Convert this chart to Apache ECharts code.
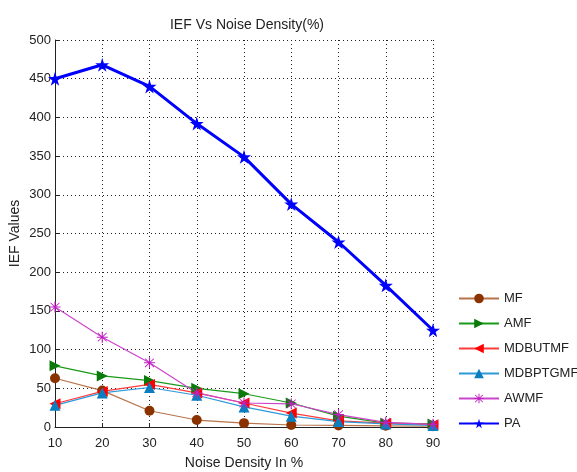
<!DOCTYPE html>
<html><head><meta charset="utf-8">
<script src="https://cdn.jsdelivr.net/npm/echarts@6/dist/echarts.min.js"></script>
<style>html,body{margin:0;padding:0;background:#fff}#c{width:577px;height:472px}</style>
</head><body><div id="c"></div>
<script>
const noise = [10, 20, 30, 40, 50, 60, 70, 80, 90];
const MF = [63, 47, 21, 9, 5, 2.6, 2, 1.5, 1];
const AMF = [79, 66, 60, 50, 43, 31, 14, 5, 4];
const MDBUTMF = [30, 46, 55, 44, 31, 18, 8, 5, 3];
const MDBPTGMF = [28, 44, 51, 41, 26, 14, 7, 4, 2];
const AWMF = [155, 116, 83, 44, 31, 30, 16, 6, 3.5];
const PA = [450, 468, 440, 392, 349, 288, 239, 183, 125];

const font = "'Liberation Sans', Arial, sans-serif";
const star = 'path://M50,0 L61,35 L98,35 L68,57 L79,91 L50,70 L21,91 L32,57 L2,35 L39,35 Z';
const asterisk = 'path://M45,0 L55,0 L55,100 L45,100 Z M0,45 L100,45 L100,55 L0,55 Z M12,8 L92,85 L88,92 L8,15 Z M88,8 L92,15 L12,92 L8,85 Z';
const triR = 'path://M0,0 L10,5 L0,10 Z';
const triL = 'path://M10,0 L0,5 L10,10 Z';

function mk(name, data, lineColor, markColor, symbol, size, width) {
  return {
    name, type: 'line', data: noise.map((x, i) => [x, data[i]]),
    symbol, symbolSize: size, showAllSymbol: true,
    lineStyle: { color: lineColor, width: width || 1.2 },
    itemStyle: { color: markColor },
    emphasis: { disabled: true }, animation: false
  };
}

const chart = echarts.init(document.getElementById('c'));
chart.setOption({
  backgroundColor: '#fff',
  textStyle: { fontFamily: font },
  title: { text: 'IEF Vs Noise Density(%)', left: 242, top: 13, textAlign: 'center',
    textStyle: { fontFamily: font, fontSize: 14, fontWeight: 'normal', color: '#222' } },
  grid: { left: 55, right: 144, top: 40, bottom: 45, outerBoundsMode: 'none', containLabel: false },
  xAxis: {
    type: 'value', min: 10, max: 90, interval: 10,
    name: 'Noise Density In %', nameLocation: 'middle', nameGap: 29,
    nameTextStyle: { fontFamily: font, fontSize: 14, color: '#222' },
    axisLine: { lineStyle: { color: '#222', width: 1 } },
    axisTick: { inside: true, length: 4, lineStyle: { color: '#222' } },
    axisLabel: { fontFamily: font, fontSize: 13, color: '#222', margin: 10 },
    splitLine: { show: true, lineStyle: { type: [1, 3], color: '#222' } }
  },
  yAxis: {
    type: 'value', min: 0, max: 500, interval: 50,
    name: 'IEF Values', nameLocation: 'middle', nameGap: 33, nameMoveOverlap: false,
    nameTextStyle: { fontFamily: font, fontSize: 14, color: '#222' },
    axisLine: { show: true, lineStyle: { color: '#222', width: 1 } },
    axisTick: { show: true, inside: true, length: 4, lineStyle: { color: '#222' } },
    axisLabel: { fontFamily: font, fontSize: 13, color: '#222', margin: 4 },
    splitLine: { show: true, lineStyle: { type: [1, 3], color: '#222' } }
  },
  legend: {
    orient: 'vertical', left: 453, top: 287, itemGap: 12, itemWidth: 40, itemHeight: 12,
    textStyle: { fontFamily: font, fontSize: 13, color: '#222' },
    data: ['MF', 'AMF', 'MDBUTMF', 'MDBPTGMF', 'AWMF', 'PA']
  },
  series: [
    mk('MF', MF, '#b8734a', '#8b3300', 'circle', 10),
    mk('AMF', AMF, '#1a9a1a', '#0a7a0a', triR, 11),
    mk('MDBUTMF', MDBUTMF, '#ff3b3b', '#ff0000', triL, 11),
    mk('MDBPTGMF', MDBPTGMF, '#2d9ad8', '#0a7fc0', 'triangle', 11),
    mk('AWMF', AWMF, '#cc44cc', '#c020c0', asterisk, 11),
    mk('PA', PA, '#0000ff', '#0000ff', star, 14, 3)
  ]
});
</script></body></html>
